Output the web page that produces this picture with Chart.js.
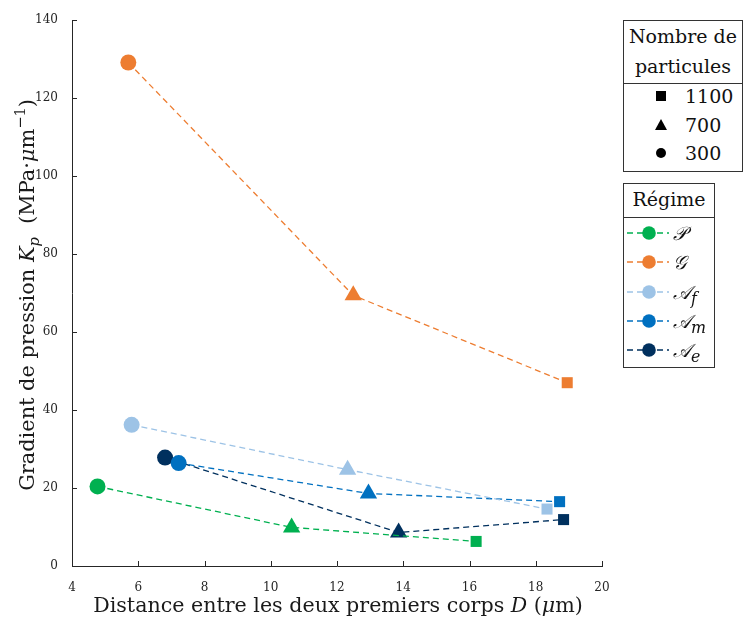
<!DOCTYPE html>
<html>
<head>
<meta charset="utf-8">
<script src="https://cdn.jsdelivr.net/npm/chart.js@4.4.1/dist/chart.umd.min.js"></script>
<style>
  body { margin: 0; background: #fff; }
  #wrap { position: relative; width: 743px; height: 617px; font-family: 'DejaVu Serif', serif; color: #111; }
  #chart { position: absolute; left: 0; top: 0; }
  .box { position: absolute; border: 1px solid #333; background: #fff; font-size: 19px; box-sizing: border-box; }
  .head { text-align: center; border-bottom: 1px solid #333; }
  .row { position: absolute; left: 0; height: 24px; line-height: 24px; white-space: nowrap; }
  .row svg { position: absolute; top: 0; }
  .row span { position: absolute; }
</style>
</head>
<body>
<div id="wrap">
  <canvas id="chart" width="743" height="617"></canvas>
  <div class="box" id="legCount" style="left:623px; top:20px; width:120px; height:152px;">
    <div class="head" style="height:62px; line-height:30px; padding-top:0px;">Nombre de<br>particules</div>
  </div>
  <div class="box" id="legRegime" style="left:623px; top:183px; width:92px; height:185px;">
    <div class="head" style="height:33px; line-height:31px;">Régime</div>
  </div>
</div>
<script>
// Values
const regimeNames = ['𝒫', '𝒢', '𝒜f', '𝒜m', '𝒜e'];
const regimeColors = ['#00b050', '#ed7d31', '#9dc3e6', '#0070c0', '#00305e'];
const particleCounts = [300, 700, 1100];
const particleStyles = ['circle', 'triangle', 'rect'];

const distP  = [4.77, 10.63, 16.20];
const gradP  = [20.4, 9.9, 6.3];
const distG  = [5.70, 12.49, 18.95];
const gradG  = [129.1, 69.4, 47.0];
const distAf = [5.80, 12.32, 18.34];
const gradAf = [36.2, 24.7, 14.6];
const distAm = [7.22, 12.95, 18.72];
const gradAm = [26.4, 18.6, 16.5];
const distAe = [6.81, 13.86, 18.84];
const gradAe = [27.8, 8.6, 11.9];

const xTicks = [4, 6, 8, 10, 12, 14, 16, 18, 20];
const yTicks = [0, 20, 40, 60, 80, 100, 120, 140];

const seriesX = [distP, distG, distAf, distAm, distAe];
const seriesY = [gradP, gradG, gradAf, gradAm, gradAe];

const datasets = regimeNames.map((name, i) => ({
  label: name,
  data: seriesX[i].map((d, k) => ({ x: d, y: seriesY[i][k] })),
  borderColor: regimeColors[i],
  backgroundColor: regimeColors[i],
  borderWidth: 1.3,
  borderDash: [6, 4],
  pointStyle: particleStyles,
  pointRadius: [8, 10, 7.8],
  pointHoverRadius: [8, 10, 7.8],
  pointBorderWidth: 0,
  showLine: true,
  tension: 0
}));

const axisColor = '#262626';
const serif = '"DejaVu Serif", serif';

// draws mixed roman / italic / sub / sup text, stretched to a target width
function drawRich(ctx, parts, cx, baseY, size, targetW) {
  const fontOf = (p, s) => (p.it ? 'italic ' : '') + ((p.sub || p.sup) ? s * 0.7 : s) + 'px ' + serif;
  let w = 0;
  parts.forEach(p => { ctx.font = fontOf(p, size); w += ctx.measureText(p.t).width; });
  const s = targetW ? size * targetW / w : size;
  w = 0;
  parts.forEach(p => { ctx.font = fontOf(p, s); p.w = ctx.measureText(p.t).width; w += p.w; });
  let x = cx - w / 2;
  ctx.textAlign = 'left';
  ctx.textBaseline = 'alphabetic';
  parts.forEach(p => {
    ctx.font = fontOf(p, s);
    const dy = p.sub ? s * 0.25 : p.sup ? -s * 0.42 : 0;
    ctx.fillText(p.t, x, baseY + dy);
    x += p.w;
  });
}

const xTitle = [
  { t: 'Distance entre les deux premiers corps ' }, { t: 'D', it: true },
  { t: ' (' }, { t: 'μ', it: true }, { t: 'm)' }
];
const yTitle = [
  { t: 'Gradient de pression ' }, { t: 'K', it: true }, { t: 'p', it: true, sub: true },
  { t: '  (MPa·' }, { t: 'μ', it: true }, { t: 'm' }, { t: '−1', sup: true }, { t: ')' }
];

const axisExtras = {
  id: 'axisExtras',
  afterDraw(chart) {
    const { ctx, chartArea: a, scales: { x, y } } = chart;
    ctx.save();
    ctx.strokeStyle = axisColor;
    ctx.lineWidth = 1;
    xTicks.forEach(v => {
      const px = Math.round(x.getPixelForValue(v)) + 0.5;
      ctx.beginPath(); ctx.moveTo(px, a.bottom); ctx.lineTo(px, a.bottom - 5); ctx.stroke();
    });
    yTicks.forEach(v => {
      const py = Math.round(y.getPixelForValue(v)) + 0.5;
      ctx.beginPath(); ctx.moveTo(a.left, py); ctx.lineTo(a.left + 5, py); ctx.stroke();
    });
    ctx.fillStyle = '#1a1a1a';
    drawRich(ctx, xTitle, 338, 612, 20, 490);
    ctx.translate(34, 295);
    ctx.rotate(-Math.PI / 2);
    drawRich(ctx, yTitle, 0, 0, 20, 392);
    ctx.restore();
  }
};

new Chart(document.getElementById('chart'), {
  type: 'scatter',
  data: { datasets },
  options: {
    responsive: false,
    animation: false,
    layout: { padding: { top: 20, right: 141, left: 0, bottom: 0 } },
    plugins: { legend: { display: false }, tooltip: { enabled: false } },
    scales: {
      x: {
        type: 'linear', min: 4, max: 20,
        afterBuildTicks: s => { s.ticks = xTicks.map(v => ({ value: v })); },
        afterFit: s => { s.height = 51; },
        grid: { display: false },
        border: { display: true, color: axisColor, width: 1 },
        ticks: { color: axisColor, font: { family: serif, size: 12 }, padding: 7, maxRotation: 0 }
      },
      y: {
        type: 'linear', min: 0, max: 140,
        afterBuildTicks: s => { s.ticks = yTicks.map(v => ({ value: v })); },
        afterFit: s => { s.width = 72; },
        grid: { display: false },
        border: { display: true, color: axisColor, width: 1 },
        ticks: { color: axisColor, font: { family: serif, size: 12 }, padding: 6 }
      }
    }
  },
  plugins: [axisExtras]
});

// legend boxes (HTML)
const countRows = [particleCounts[2], particleCounts[1], particleCounts[0]];
const countShapes = [
  '<rect x="6" y="7" width="10" height="10" fill="#000"/>',
  '<polygon points="11,6 17,17 5,17" fill="#000"/>',
  '<circle cx="11" cy="12" r="5" fill="#000"/>'
];
const legCount = document.getElementById('legCount');
countRows.forEach((n, i) => {
  const r = document.createElement('div');
  r.className = 'row';
  r.style.top = (63 + i * 28.5) + 'px';
  r.innerHTML = '<svg width="24" height="24" style="left:26px">' + countShapes[i] + '</svg>' +
    '<span style="left:61px">' + n + '</span>';
  legCount.appendChild(r);
});

const legRegime = document.getElementById('legRegime');
const regimeHtml = ['𝒫', '𝒢', '𝒜<sub>f</sub>', '𝒜<sub>m</sub>', '𝒜<sub>e</sub>'];
regimeNames.forEach((name, i) => {
  const r = document.createElement('div');
  r.className = 'row';
  r.style.top = (37 + i * 29.3) + 'px';
  const c = regimeColors[i];
  r.innerHTML = '<svg width="50" height="24" style="left:1px">' +
    '<line x1="2" y1="12" x2="44" y2="12" stroke="' + c + '" stroke-width="1.3" stroke-dasharray="6 4"/>' +
    '<circle cx="24" cy="12" r="6.8" fill="' + c + '"/></svg>' +
    '<span style="left:49px; font-style:italic;">' + regimeHtml[i] + '</span>';
  legRegime.appendChild(r);
});
</script>
</body>
</html>
